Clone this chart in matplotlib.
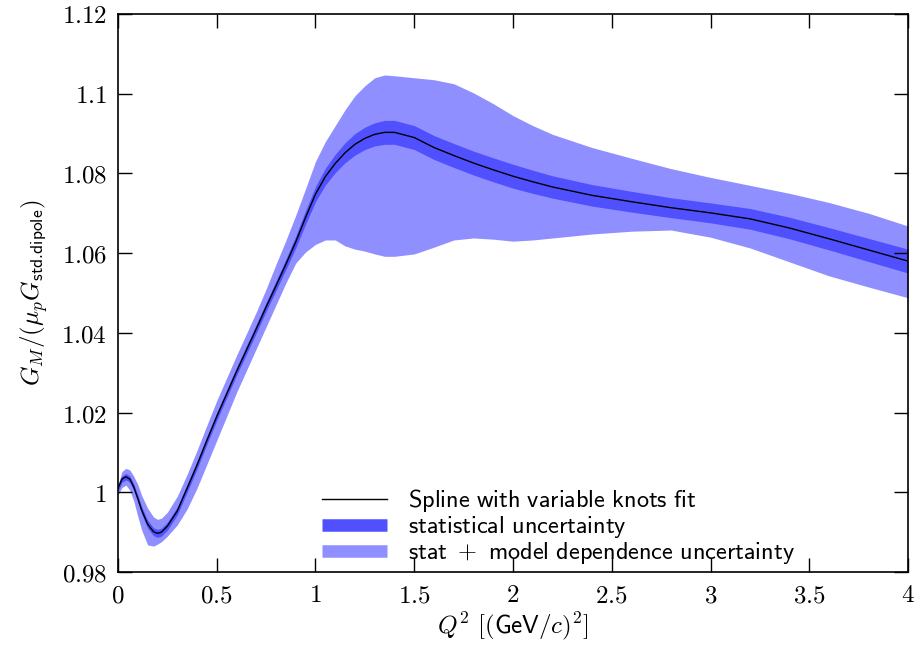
import matplotlib
matplotlib.use('Agg')
import matplotlib.pyplot as plt
from matplotlib.lines import Line2D

plt.rcParams['mathtext.fontset'] = 'cm'

# Q^2 points
q2 = [0.0, 0.02, 0.04, 0.06, 0.08, 0.1, 0.12, 0.15, 0.18, 0.2, 0.22, 0.25,
      0.3, 0.35, 0.4, 0.45, 0.5, 0.6, 0.7, 0.75, 0.8, 0.85, 0.9, 0.95, 1.0,
      1.05, 1.1, 1.15, 1.2, 1.25, 1.3, 1.35, 1.4, 1.5, 1.6, 1.7, 1.8, 1.9,
      2.0, 2.1, 2.2, 2.4, 2.6, 2.8, 3.0, 3.2, 3.4, 3.6, 3.8, 4.0]

# spline fit
fit = [1.0010, 1.0033, 1.0039, 1.0033, 1.0013, 0.9985, 0.9955, 0.9920, 0.9901,
       0.9897, 0.9900, 0.9915, 0.9953, 1.0010, 1.0068, 1.0130, 1.0190, 1.0303,
       1.0410, 1.0465, 1.0518, 1.0572, 1.0628, 1.0690, 1.0748, 1.0792, 1.0825,
       1.0852, 1.0873, 1.0888, 1.0898, 1.0903, 1.0903, 1.0890, 1.0865, 1.0845,
       1.0826, 1.0809, 1.0793, 1.0779, 1.0766, 1.0745, 1.0729, 1.0714, 1.0701,
       1.0686, 1.0663, 1.0636, 1.0608, 1.0580]

# statistical half width
stat = [0.0008, 0.0008, 0.0008, 0.0008, 0.0008, 0.0009, 0.0009, 0.001, 0.001,
        0.001, 0.001, 0.001, 0.001, 0.001, 0.001, 0.001, 0.001, 0.001, 0.0011,
        0.0011, 0.0012, 0.0013, 0.0015, 0.0017, 0.0019, 0.0021, 0.0023, 0.0025,
        0.0027, 0.0028, 0.0029, 0.003, 0.003, 0.003, 0.003, 0.003, 0.003, 0.003,
        0.003, 0.0029, 0.0028, 0.0027, 0.0026, 0.0025, 0.0025, 0.0026, 0.0027,
        0.0028, 0.0029, 0.003]

# stat + model dependence band edges
upper = [1.0018, 1.0052, 1.0060, 1.0056, 1.0040, 1.0020, 0.9992, 0.9960, 0.9938,
         0.9932, 0.9935, 0.9950, 0.9990, 1.0045, 1.0105, 1.0168, 1.0230, 1.0343,
         1.0452, 1.0510, 1.0572, 1.0632, 1.0695, 1.0762, 1.0830, 1.0880, 1.0920,
         1.0960, 1.0995, 1.1020, 1.1040, 1.1047, 1.1045, 1.1040, 1.1035, 1.1025,
         1.1002, 1.0975, 1.0945, 1.0920, 1.0898, 1.0865, 1.0838, 1.0812, 1.0790,
         1.0770, 1.0750, 1.0727, 1.0700, 1.0668]
lower = [0.9993, 1.0012, 1.0018, 1.0005, 0.9978, 0.9940, 0.9905, 0.9868, 0.9865,
         0.9870, 0.9876, 0.9890, 0.9918, 0.9958, 1.0010, 1.0070, 1.0130, 1.0250,
         1.0360, 1.0415, 1.0470, 1.0525, 1.0575, 1.0603, 1.0622, 1.0633, 1.0633,
         1.0618, 1.0610, 1.0605, 1.0598, 1.0592, 1.0592, 1.0598, 1.0615, 1.0633,
         1.0638, 1.0635, 1.0630, 1.0633, 1.0638, 1.0648, 1.0655, 1.0658, 1.0640,
         1.0613, 1.0578, 1.0543, 1.0515, 1.0488]

xticks = [0, 0.5, 1, 1.5, 2, 2.5, 3, 3.5, 4]
yticks = [0.98, 1.0, 1.02, 1.04, 1.06, 1.08, 1.1, 1.12]

light = '#8f8fff'
dark = '#5050ff'

fig = plt.figure(figsize=(9.16, 6.5), dpi=100)
ax = fig.add_axes([0.1288, 0.12, 0.8625, 0.8585])

ax.fill_between(q2, lower, upper, color=light, lw=0)
stat_lo = [f - s for f, s in zip(fit, stat)]
stat_hi = [f + s for f, s in zip(fit, stat)]
ax.fill_between(q2, stat_lo, stat_hi, color=dark, lw=0)
ax.plot(q2, fit, color='black', lw=1)

ax.set_xlim(0, 4)
ax.set_ylim(0.98, 1.12)
ax.set_xticks(xticks)
ax.set_yticks(yticks)
ax.set_xticklabels([f'${v:g}$' for v in xticks])
ax.set_yticklabels([f'${v:g}$' for v in yticks])
ax.tick_params(direction='in', length=10, width=1, top=True, right=True,
               labelsize=18, pad=8)
for s in ax.spines.values():
    s.set_linewidth(1.2)

ax.set_xlabel(r'$Q^2\ [(\mathsf{GeV}/c)^2]$', fontsize=18, labelpad=2)
ax.set_ylabel(r'$G_M/(\mu_p G_{\mathsf{std.\!dipole}})$', fontsize=18, labelpad=8)

handles = [Line2D([], [], color='black', lw=1),
           Line2D([], [], color=dark, lw=9, solid_capstyle='butt'),
           Line2D([], [], color=light, lw=9, solid_capstyle='butt')]
labels = [r'$\mathsf{Spline\ with\ variable\ knots\ fit}$',
          r'$\mathsf{statistical\ uncertainty}$',
          r'$\mathsf{stat}\ +\ \mathsf{model\ dependence\ uncertainty}$']
ax.legend(handles, labels, loc='lower left', bbox_to_anchor=(0.255, 0.006),
          frameon=False, fontsize=17.5, handlelength=2.7, handletextpad=0.85,
          labelspacing=0.0, borderpad=0.1, borderaxespad=0.0)

fig.savefig('out.png', dpi=100)
